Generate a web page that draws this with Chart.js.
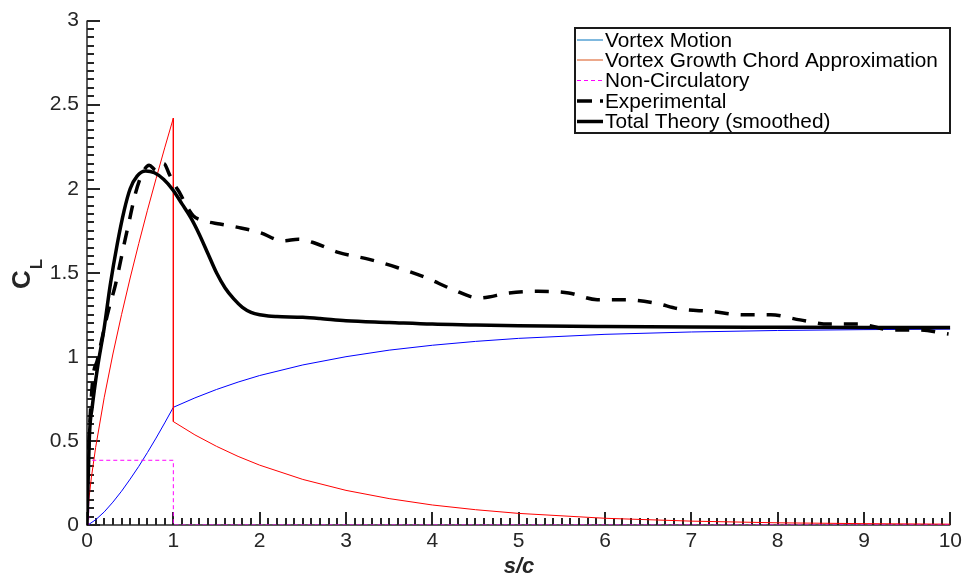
<!DOCTYPE html>
<html><head><meta charset="utf-8">
<script src="https://cdn.jsdelivr.net/npm/chart.js@4"></script>
<style>html,body{margin:0;padding:0;background:#fff;overflow:hidden}</style>
</head><body>
<canvas id="c" width="966" height="577"></canvas>
<script>
// ---- data ----
const xTickValues = [0, 1, 2, 3, 4, 5, 6, 7, 8, 9, 10];
const xTickLabels = ["0", "1", "2", "3", "4", "5", "6", "7", "8", "9", "10"];
const yTickValues = [0, 0.5, 1, 1.5, 2, 2.5, 3];
const yTickLabels = ["0", "0.5", "1", "1.5", "2", "2.5", "3"];

const seriesLabels = ["Vortex Motion", "Vortex Growth Chord Approximation", "Non-Circulatory", "Experimental", "Total Theory (smoothed)"];

const vortexMotionX = [0, 0.02, 0.1, 0.2, 0.3, 0.4, 0.5, 0.6, 0.7, 0.8, 0.9, 1.0, 1.25, 1.5, 1.75, 2, 2.5, 3, 3.5, 4, 4.5, 5, 6, 7, 8, 9, 10];
const vortexMotionY = [0, 0.003, 0.031, 0.078, 0.136, 0.201, 0.273, 0.349, 0.431, 0.517, 0.607, 0.700, 0.756, 0.806, 0.850, 0.889, 0.952, 1.001, 1.040, 1.069, 1.092, 1.110, 1.134, 1.148, 1.157, 1.162, 1.165];

const vortexGrowthX = [0, 0.02, 0.05, 0.1, 0.2, 0.3, 0.4, 0.5, 0.6, 0.7, 0.8, 0.9, 1.0, 1.0, 1.25, 1.5, 1.75, 2, 2.5, 3, 3.5, 4, 4.5, 5, 6, 7, 8, 9, 10];
const vortexGrowthY = [0, 0.145, 0.280, 0.461, 0.760, 1.017, 1.251, 1.469, 1.675, 1.872, 2.060, 2.243, 2.42, 0.615, 0.536, 0.468, 0.408, 0.356, 0.271, 0.206, 0.157, 0.119, 0.091, 0.069, 0.040, 0.023, 0.013, 0.008, 0.005];

const nonCircX = [0, 0.02, 0.02, 1.0, 1.0, 10];
const nonCircY = [0, 0, 0.385, 0.385, 0, 0];

const experimentalX = [0.01, 0.03, 0.07, 0.12, 0.17, 0.25, 0.33, 0.43, 0.49, 0.56, 0.64, 0.72, 0.80, 0.89, 0.95, 1.02, 1.08, 1.15, 1.23, 1.35, 1.54, 1.75, 2.0, 2.27, 2.45, 2.62, 2.92, 3.27, 3.60, 3.93, 4.24, 4.54, 4.89, 5.22, 5.58, 5.91, 6.24, 6.58, 6.86, 7.24, 7.59, 7.92, 8.26, 8.59, 8.94, 9.32, 9.63, 9.98];
const experimentalY = [0.30, 0.58, 0.88, 0.98, 1.10, 1.28, 1.43, 1.67, 1.81, 1.97, 2.09, 2.14, 2.11, 2.15, 2.09, 2.02, 1.97, 1.90, 1.84, 1.81, 1.79, 1.77, 1.74, 1.69, 1.70, 1.68, 1.62, 1.58, 1.53, 1.47, 1.40, 1.35, 1.38, 1.39, 1.38, 1.34, 1.34, 1.32, 1.285, 1.27, 1.25, 1.25, 1.22, 1.195, 1.195, 1.16, 1.16, 1.136];

const totalX = [0, 0.015, 0.03, 0.06, 0.12, 0.2, 0.27, 0.35, 0.43, 0.5, 0.58, 0.68, 0.78, 0.89, 1.0, 1.1, 1.2, 1.3, 1.4, 1.5, 1.6, 1.7, 1.8, 1.9, 2.0, 2.1, 2.2, 2.5, 2.7, 3.0, 3.5, 4.0, 4.5, 5.0, 6.0, 7.0, 8.0, 9.0, 10.0];
const totalY = [0, 0.30, 0.55, 0.70, 0.93, 1.175, 1.43, 1.67, 1.87, 2.0, 2.075, 2.105, 2.095, 2.055, 1.99, 1.91, 1.83, 1.73, 1.615, 1.50, 1.41, 1.345, 1.295, 1.265, 1.25, 1.243, 1.24, 1.235, 1.228, 1.215, 1.205, 1.195, 1.19, 1.185, 1.18, 1.177, 1.176, 1.175, 1.175];

// ---- helpers ----
const pts = (xs, ys) => xs.map((x, i) => ({x: x, y: ys[i]}));
const FONT = '"Liberation Sans", Arial, Helvetica, sans-serif';
const AXIS_COLOR = '#262626';

const legendStyles = [
  {color: '#0072BD', width: 1, dash: []},
  {color: '#D95319', width: 1, dash: []},
  {color: '#FF00FF', width: 1, dash: [4, 3]},
  {color: '#000000', width: 3.5, dash: [15, 8]},
  {color: '#000000', width: 3.5, dash: []}
];

const axesPlugin = {
  id: 'matlabAxes',
  beforeDatasetsDraw(chart) {
    const {ctx, chartArea: a, scales} = chart;
    const xs = scales.x, ys = scales.y;
    ctx.save();
    ctx.strokeStyle = AXIS_COLOR;
    ctx.lineWidth = 2;
    ctx.beginPath();
    for (let i = 0; i <= 100; i++) {
      const px = Math.round(xs.getPixelForValue(i / 10));
      const len = (i % 10 === 0) ? 13 : 7;
      ctx.moveTo(px, a.bottom);
      ctx.lineTo(px, a.bottom - len);
    }
    for (let i = 0; i <= 60; i++) {
      const py = Math.round(ys.getPixelForValue(i / 20));
      const len = (i % 10 === 0) ? 13 : 7;
      ctx.moveTo(a.left, py);
      ctx.lineTo(a.left + len, py);
    }
    ctx.stroke();
    ctx.lineWidth = 1.5;
    ctx.beginPath();
    ctx.moveTo(a.left, a.top);
    ctx.lineTo(a.left, a.bottom);
    ctx.lineTo(a.right, a.bottom);
    ctx.stroke();
    ctx.restore();
  },
  afterDraw(chart) {
    const {ctx} = chart;
    ctx.save();
    ctx.fillStyle = AXIS_COLOR;
    ctx.font = 'bold italic 22px ' + FONT;
    ctx.textAlign = 'center';
    ctx.textBaseline = 'alphabetic';
    ctx.fillText('s/c', 519, 573);

    ctx.translate(30, 289);
    ctx.rotate(-Math.PI / 2);
    ctx.textAlign = 'left';
    ctx.font = 'bold 26px ' + FONT;
    ctx.fillText('C', 0, 0);
    const cw = ctx.measureText('C').width;
    ctx.font = 'bold 17px ' + FONT;
    ctx.fillText('L', cw + 1, 12);
    ctx.restore();

    // legend
    ctx.save();
    const bx = 575, by = 28, bw = 375, bh = 105;
    ctx.fillStyle = '#ffffff';
    ctx.fillRect(bx, by, bw, bh);
    ctx.strokeStyle = '#1a1a1a';
    ctx.lineWidth = 2;
    ctx.strokeRect(bx, by, bw, bh);
    const rows = [40, 60, 80.5, 101, 121.5];
    ctx.font = '20.8px ' + FONT;
    ctx.textBaseline = 'middle';
    ctx.textAlign = 'left';
    chart.data.datasets.forEach((ds, i) => {
      const st = legendStyles[i];
      const yy = rows[i];
      ctx.strokeStyle = st.color;
      ctx.lineWidth = st.width;
      ctx.setLineDash(st.dash);
      ctx.beginPath();
      ctx.moveTo(577, yy);
      ctx.lineTo(603, yy);
      ctx.stroke();
      ctx.setLineDash([]);
      ctx.fillStyle = '#000000';
      ctx.fillText(ds.label, 605, yy + 1);
    });
    ctx.restore();
  }
};

const common = {pointRadius: 0, pointHoverRadius: 0, fill: false, showLine: true};

new Chart(document.getElementById('c'), {
  type: 'scatter',
  data: {
    datasets: [
      Object.assign({label: seriesLabels[0], data: pts(vortexMotionX, vortexMotionY), borderColor: '#0000FF', borderWidth: 1, tension: 0, order: 4}, common),
      Object.assign({label: seriesLabels[1], data: pts(vortexGrowthX, vortexGrowthY), borderColor: '#FF0000', borderWidth: 1, tension: 0, order: 3}, common),
      Object.assign({label: seriesLabels[2], data: pts(nonCircX, nonCircY), borderColor: '#FF00FF', borderWidth: 1, borderDash: [4, 3], tension: 0, order: 2}, common),
      Object.assign({label: seriesLabels[3], data: pts(experimentalX, experimentalY), borderColor: '#000000', borderWidth: 3.5, borderDash: [14, 12], cubicInterpolationMode: 'monotone', order: 1}, common),
      Object.assign({label: seriesLabels[4], data: pts(totalX, totalY), borderColor: '#000000', borderWidth: 3.5, cubicInterpolationMode: 'monotone', order: 0}, common)
    ]
  },
  options: {
    responsive: false,
    animation: false,
    devicePixelRatio: 1,
    layout: {padding: {top: 19, right: 14, left: 0, bottom: 0}},
    plugins: {legend: {display: false}, tooltip: {enabled: false}, title: {display: false}},
    scales: {
      x: {
        type: 'linear', min: 0, max: 10,
        afterBuildTicks: s => { s.ticks = xTickValues.map(v => ({value: v})); },
        afterFit: s => { s.height = 52; },
        grid: {display: false, drawTicks: false},
        border: {display: false},
        ticks: {
          color: AXIS_COLOR, padding: 4, maxRotation: 0, autoSkip: false,
          font: {family: FONT, size: 21},
          callback: (v, i) => xTickLabels[i]
        }
      },
      y: {
        type: 'linear', min: 0, max: 3,
        afterBuildTicks: s => { s.ticks = yTickValues.map(v => ({value: v})); },
        afterFit: s => { s.width = 87; },
        grid: {display: false, drawTicks: false},
        border: {display: false},
        ticks: {
          color: AXIS_COLOR, padding: 8, autoSkip: false,
          font: {family: FONT, size: 21},
          callback: (v, i) => yTickLabels[i]
        }
      }
    }
  },
  plugins: [axesPlugin]
});
</script>
</body></html>
